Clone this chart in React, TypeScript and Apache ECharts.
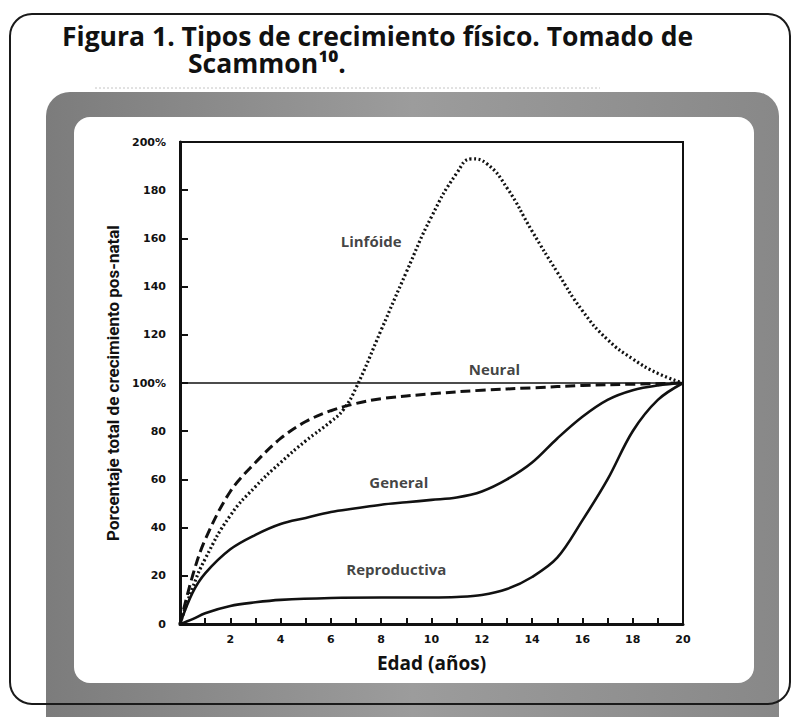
import React, { useEffect, useRef } from "react";
import * as echarts from "echarts";

// ---- data ----
const linfoideAges = [0, 0.5, 1, 2, 3, 4, 5, 6, 6.5, 7, 8, 9, 10, 11, 11.6, 12.2, 13, 14, 15, 16, 17, 18, 19, 20];
const linfoide = [0, 15, 27, 45, 57, 67, 76, 84, 89, 98, 122, 146, 169, 187, 193, 191, 181, 163, 146, 130, 118, 110, 104, 100];

const neuralAges = [0, 0.5, 1, 2, 3, 4, 5, 6, 7, 8, 10, 12, 14, 16, 18, 20];
const neural = [0, 20, 35, 55, 67, 77, 84, 88.5, 91.5, 93.5, 95.5, 97, 98, 99, 99.5, 100];

const generalAges = [0, 0.5, 1, 2, 3, 4, 5, 6, 7, 8, 9, 10, 11, 12, 13, 14, 15, 16, 17, 18, 19, 20];
const general = [0, 13, 21, 31, 37, 41.5, 44, 46.5, 48, 49.5, 50.5, 51.5, 52.5, 55, 60, 67, 77, 86, 93, 97, 99, 100];

const reproAges = [0, 0.5, 1, 2, 3, 4, 6, 8, 10, 11, 12, 13, 14, 15, 16, 17, 18, 19, 20];
const reproductiva = [0, 2, 4.5, 7.5, 9, 10, 10.8, 11, 11, 11.2, 12, 14.5, 19.5, 27.5, 43, 60, 80, 93, 100];

const referenceLine = [[0, 100], [20, 100]];

const curveLabels = [
  { name: "Linfóide", x: 7.6, y: 159 },
  { name: "Neural", x: 12.5, y: 106 },
  { name: "General", x: 8.7, y: 59 },
  { name: "Reproductiva", x: 8.6, y: 23 },
];

const yTickLabels: Record<number, string> = {
  0: "0", 20: "20", 40: "40", 60: "60", 80: "80", 100: "100%",
  120: "120", 140: "140", 160: "160", 180: "180", 200: "200%",
};
const xTickLabels = ["2", "4", "6", "8", "10", "12", "14", "16", "18", "20"];

const titleLine1 = "Figura 1. Tipos de crecimiento físico. Tomado de";
const titleLine2 = "Scammon¹⁰.";
const xName = "Edad (años)";
const yName = "Porcentaje total de crecimiento pos-natal";

const pair = (xs: number[], ys: number[]) => xs.map((x, i) => [x, ys[i]]);

export default function App() {
  const ref = useRef<HTMLDivElement>(null);
  useEffect(() => {
    if (!ref.current) return;
    const chart = echarts.init(ref.current, null, { renderer: "svg" });
    const ink = "#111111";
    const tickFont = "DejaVu Sans";
    chart.setOption({
      animation: false,
      backgroundColor: "#ffffff",
      graphic: [
        {
          type: "rect", z: -10,
          shape: { x: 46, y: 92, width: 733, height: 640, r: [24, 24, 0, 0] },
          style: {
            fill: new echarts.graphic.LinearGradient(0, 0, 1, 0, [
              { offset: 0, color: "#7c7c7c" },
              { offset: 0.5, color: "#9c9c9c" },
              { offset: 1, color: "#888888" },
            ]),
          },
        },
        {
          type: "rect", z: -9,
          shape: { x: 74, y: 117, width: 680, height: 566, r: 16 },
          style: { fill: "#ffffff" },
        },
        {
          type: "line", z: -8,
          shape: { x1: 95, y1: 88, x2: 600, y2: 88 },
          style: { stroke: "#c4c4c4", lineWidth: 1, lineDash: [2, 2] },
        },
        {
          type: "rect", z: 50,
          shape: { x: 10, y: 14, width: 780, height: 690, r: 22 },
          style: { fill: "none", stroke: "#1a1a1a", lineWidth: 2 },
        },
        {
          type: "text", z: 50, x: 62, y: 36,
          style: {
            text: titleLine1, fill: ink,
            font: 'bold 26px "Open Sans"', verticalAlign: "middle",
          },
          scaleX: 1.02,
        },
        {
          type: "text", z: 50, x: 188, y: 63,
          style: {
            text: titleLine2, fill: ink,
            font: 'bold 26px "Open Sans"', verticalAlign: "middle",
          },
          scaleX: 1.02,
        },
      ],
      grid: {
        left: 180, right: 114, top: 142, bottom: 93,
        show: true, borderColor: ink, borderWidth: 2, backgroundColor: "transparent",
      },
      xAxis: {
        type: "value", min: 0, max: 20, interval: 1,
        name: xName, nameLocation: "middle", nameGap: 29,
        nameTextStyle: { color: ink, fontSize: 19, fontWeight: "bold", fontFamily: "Open Sans" },
        axisLine: { show: true, lineStyle: { color: ink, width: 3 } },
        axisTick: { show: true, inside: true, length: 6, lineStyle: { color: ink, width: 2 } },
        splitLine: { show: false },
        axisLabel: {
          color: ink, fontSize: 11, fontWeight: "bold", fontFamily: tickFont, margin: 10,
          formatter: (v: number) => (v > 0 && v % 2 === 0 ? xTickLabels[v / 2 - 1] : ""),
        },
      },
      yAxis: {
        type: "value", min: 0, max: 200, interval: 20,
        name: yName, nameLocation: "middle", nameGap: 53,
        nameTextStyle: { color: ink, fontSize: 17, fontWeight: "bold", fontFamily: "Roboto" },
        axisLine: { show: true, lineStyle: { color: ink, width: 3 } },
        axisTick: { show: true, inside: true, length: 8, lineStyle: { color: ink, width: 2 } },
        splitLine: { show: false },
        axisLabel: {
          color: ink, fontSize: 11, fontWeight: "bold", fontFamily: tickFont, margin: 14,
          formatter: (v: number) => yTickLabels[v] ?? "",
        },
      },
      series: [
        {
          name: "ref", type: "line", data: referenceLine, symbol: "none",
          lineStyle: { color: ink, width: 1.6 }, z: 3,
        },
        {
          name: "Linfóide", type: "line", data: pair(linfoideAges, linfoide), symbol: "none",
          smooth: 0.5, lineStyle: { color: ink, width: 3.2, type: [2, 2.5] },
        },
        {
          name: "Neural", type: "line", data: pair(neuralAges, neural), symbol: "none",
          smooth: 0.35, lineStyle: { color: ink, width: 3, type: [10, 5] },
        },
        {
          name: "General", type: "line", data: pair(generalAges, general), symbol: "none",
          smooth: 0.35, lineStyle: { color: ink, width: 2.6 },
        },
        {
          name: "Reproductiva", type: "line", data: pair(reproAges, reproductiva), symbol: "none",
          smooth: 0.35, lineStyle: { color: ink, width: 2.6 },
        },
        {
          name: "labels", type: "scatter", symbolSize: 0,
          data: curveLabels.map((l) => ({ value: [l.x, l.y], name: l.name })),
          label: {
            show: true, position: "inside", formatter: (p: any) => p.name,
            color: ink, fontSize: 15, fontWeight: "bold", fontFamily: "Open Sans",
          },
          z: 5,
        },
      ],
    });
    return () => chart.dispose();
  }, []);
  return (
    <div
      ref={ref}
      style={{ position: "fixed", left: 0, top: 0, width: 797, height: 717 }}
    />
  );
}
